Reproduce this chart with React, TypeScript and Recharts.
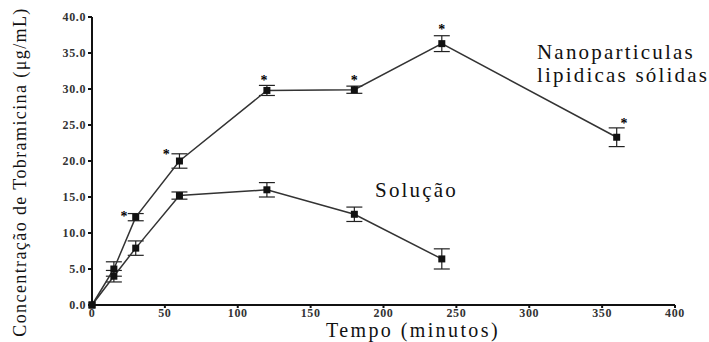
import {
  ComposedChart, Line, Scatter, XAxis, YAxis, ErrorBar,
} from 'recharts'

// tempo (min) / concentração (µg/mL) / erro
const nanoTimes = [0, 15, 30, 60, 120, 180, 240, 360]
const nanoValues = [0, 5.0, 12.2, 20.0, 29.8, 29.9, 36.3, 23.3]
const nanoErrors = [0, 1.0, 0.5, 1.0, 0.7, 0.5, 1.1, 1.3]

const solTimes = [0, 15, 30, 60, 120, 180, 240]
const solValues = [0, 4.0, 7.9, 15.2, 16.0, 12.6, 6.4]
const solErrors = [0, 0.8, 1.0, 0.5, 1.0, 1.0, 1.4]

// asteriscos de significância
const starTimes = [22, 51, 118, 180, 240, 365]
const starValues = [12.4, 21.0, 31.3, 31.3, 38.4, 25.3]

const xTicks = [0, 50, 100, 150, 200, 250, 300, 350, 400]
const yTicks = [0, 5, 10, 15, 20, 25, 30, 35, 40]

const nanoData = nanoTimes.map((t, i) => ({ t, v: nanoValues[i], e: nanoErrors[i] }))
const solData = solTimes.map((t, i) => ({ t, v: solValues[i], e: solErrors[i] }))
const starData = starTimes.map((t, i) => ({ t, v: starValues[i] }))

const FONT = '"Liberation Serif", "DejaVu Serif", serif'

function Dot(props: any) {
  const { cx, cy } = props
  if (cx == null || cy == null) return <g />
  return <rect x={cx - 3.5} y={cy - 3.5} width={7} height={7} fill="#111" />
}

function Star(props: any) {
  const { cx, cy } = props
  return (
    <text x={cx} y={cy + 5} textAnchor="middle" fontSize={14} fontWeight="bold" fontFamily={FONT} fill="#000">*</text>
  )
}

export default function App() {
  return (
    <div style={{ position: 'absolute', left: 0, top: 0, background: '#fff' }}>
      <ComposedChart width={709} height={342} margin={{ top: 17, right: 34, bottom: 9, left: 0 }}>
        <XAxis
          type="number" dataKey="t" domain={[0, 400]} ticks={xTicks}
          allowDuplicatedCategory={false}
          stroke="#111" strokeWidth={2} tickSize={3}
          tick={{ fill: '#333', fontSize: 12, fontWeight: 'bold', fontFamily: FONT, letterSpacing: 0.6, dy: -2 }}
          height={28}
        />
        <YAxis
          type="number" domain={[0, 40]} ticks={yTicks} width={92}
          stroke="#111" strokeWidth={2} tickSize={4}
          tickFormatter={(v: number) => v.toFixed(1)}
          tick={{ fill: '#333', fontSize: 12, fontWeight: 'bold', fontFamily: FONT, letterSpacing: 0.6 }}
        />
        <Line
          data={solData} dataKey="v" type="linear" stroke="#333" strokeWidth={1.5}
          dot={<Dot />} activeDot={false} isAnimationActive={false}
        >
          <ErrorBar dataKey="e" direction="y" width={8} stroke="#222" strokeWidth={1.2} />
        </Line>
        <Line
          data={nanoData} dataKey="v" type="linear" stroke="#333" strokeWidth={1.5}
          dot={<Dot />} activeDot={false} isAnimationActive={false}
        >
          <ErrorBar dataKey="e" direction="y" width={8} stroke="#222" strokeWidth={1.2} />
        </Line>
        <Scatter data={starData} dataKey="v" fill="#111" shape={<Star />} isAnimationActive={false} />
        <text x={20} y={172} transform="rotate(-90 20 172)" textAnchor="middle" dominantBaseline="central"
          fontSize={18} fontFamily={FONT} fill="#111" letterSpacing={1.4}>
          Concentração de Tobramicina (μg/mL)
        </text>
        <text x={413} y={337} textAnchor="middle" fontSize={20} fontFamily={FONT} fill="#111" letterSpacing={2.4}>
          Tempo (minutos)
        </text>
        <text x={537} y={59} fontSize={21} fontFamily={FONT} fill="#111" letterSpacing={2.2}>
          Nanoparticulas
        </text>
        <text x={537} y={82} fontSize={21} fontFamily={FONT} fill="#111" letterSpacing={2.2}>
          lipidicas sólidas
        </text>
        <text x={375} y={197} fontSize={21} fontFamily={FONT} fill="#111" letterSpacing={2.2}>
          Solução
        </text>
      </ComposedChart>
    </div>
  )
}
